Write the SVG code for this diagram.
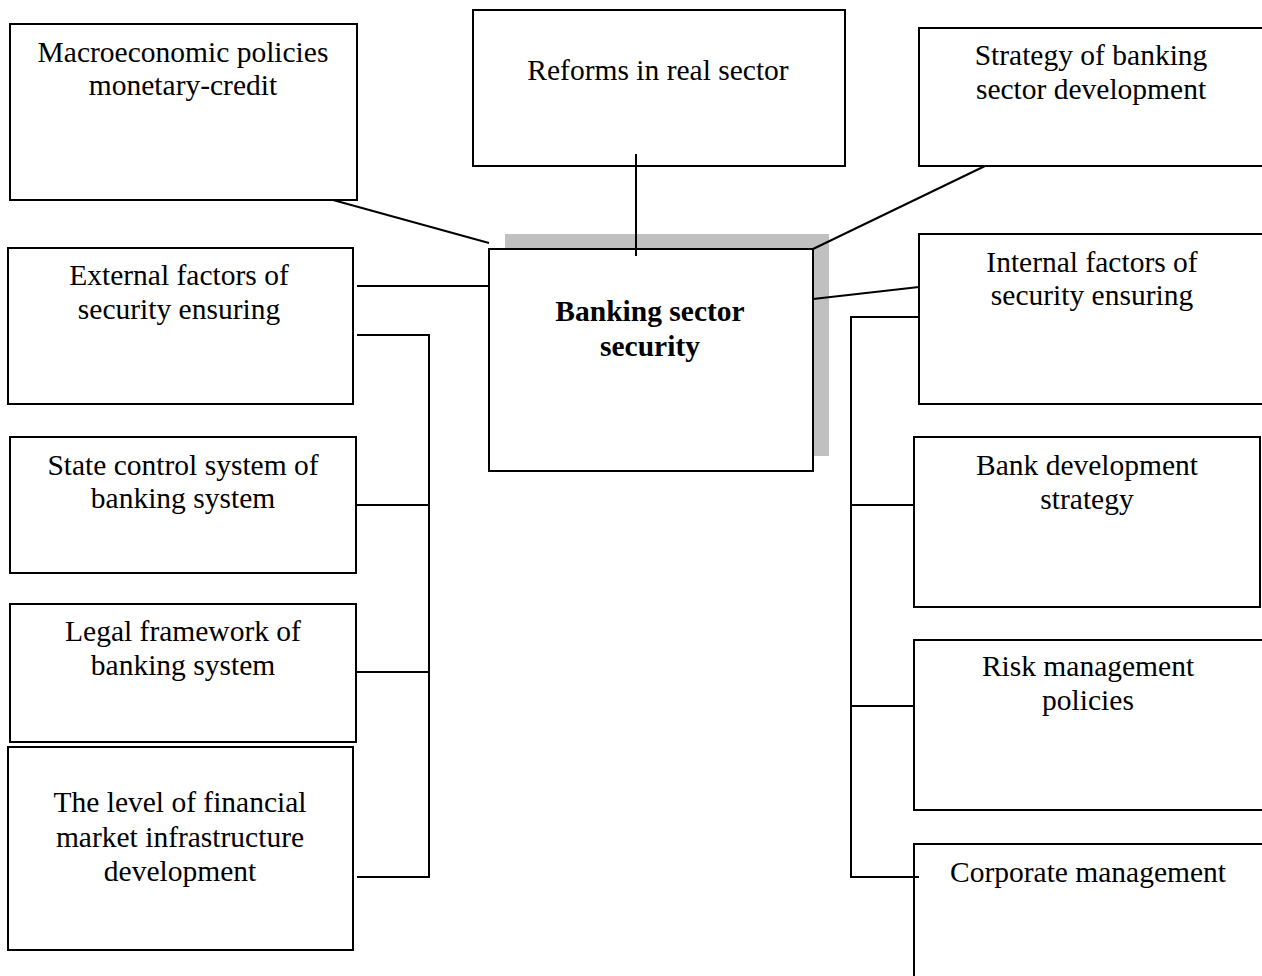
<svg xmlns="http://www.w3.org/2000/svg" width="1262" height="976" viewBox="0 0 1262 976">
<style>
.box{fill:#fff;stroke:#000;stroke-width:2}
.t{font-family:"Liberation Serif","Times New Roman",serif;font-size:29.5px;fill:#000;text-anchor:middle}
.b{font-weight:bold}
.c{stroke:#000;stroke-width:2;fill:none}
</style>
<rect width="1262" height="976" fill="#fff"/>
<g id="macro"><rect class="box" x="10" y="24" width="347" height="176"/><text class="t" x="183" y="62">Macroeconomic policies</text><text class="t" x="183" y="95">monetary-credit</text></g>
<g id="reforms"><rect class="box" x="473" y="10" width="372" height="156"/><text class="t" x="658" y="80">Reforms in real sector</text></g>
<g id="strategy"><rect class="box" x="919" y="28" width="345" height="138"/><text class="t" x="1091" y="65">Strategy of banking</text><text class="t" x="1091" y="99">sector development</text></g>
<g id="external"><rect class="box" x="8" y="248" width="345" height="156"/><text class="t" x="179" y="285">External factors of</text><text class="t" x="179" y="319">security ensuring</text></g>
<g id="central"><rect x="505" y="234" width="324" height="222" fill="#c0c0c0"/><rect class="box" x="489" y="249" width="324" height="222"/><text class="t b" x="650" y="321">Banking sector</text><text class="t b" x="650" y="356">security</text></g>
<g id="internal"><rect class="box" x="919" y="234" width="345" height="170"/><text class="t" x="1092" y="272">Internal factors of</text><text class="t" x="1092" y="305">security ensuring</text></g>
<g id="state"><rect class="box" x="10" y="437" width="346" height="136"/><text class="t" x="183" y="475">State control system of</text><text class="t" x="183" y="508">banking system</text></g>
<g id="legal"><rect class="box" x="10" y="604" width="346" height="138"/><text class="t" x="183" y="641">Legal framework of</text><text class="t" x="183" y="675">banking system</text></g>
<g id="level"><rect class="box" x="8" y="747" width="345" height="203"/><text class="t" x="180" y="812">The level of financial</text><text class="t" x="180" y="847">market infrastructure</text><text class="t" x="180" y="881">development</text></g>
<g id="bankdev"><rect class="box" x="914" y="437" width="346" height="170"/><text class="t" x="1087" y="475">Bank development</text><text class="t" x="1087" y="509">strategy</text></g>
<g id="risk"><rect class="box" x="914" y="640" width="350" height="170"/><text class="t" x="1088" y="676">Risk management</text><text class="t" x="1088" y="710">policies</text></g>
<g id="corporate"><rect class="box" x="914" y="844" width="350" height="140"/><text class="t" x="1088" y="882">Corporate management</text></g>
<g id="connectors">
<line class="c" x1="333" y1="200" x2="489" y2="243"/>
<line class="c" x1="636" y1="154" x2="636" y2="256"/>
<line class="c" x1="985" y1="166" x2="813" y2="249"/>
<line class="c" x1="357" y1="286" x2="489" y2="286"/>
<line class="c" x1="813" y1="299" x2="919" y2="287"/>
<polyline class="c" points="357,335 429,335 429,877 357,877"/>
<line class="c" x1="357" y1="505" x2="429" y2="505"/>
<line class="c" x1="357" y1="672" x2="429" y2="672"/>
<polyline class="c" points="919,317 851,317 851,877 919,877"/>
<line class="c" x1="851" y1="505" x2="914" y2="505"/>
<line class="c" x1="851" y1="706" x2="914" y2="706"/>
</g>
</svg>
